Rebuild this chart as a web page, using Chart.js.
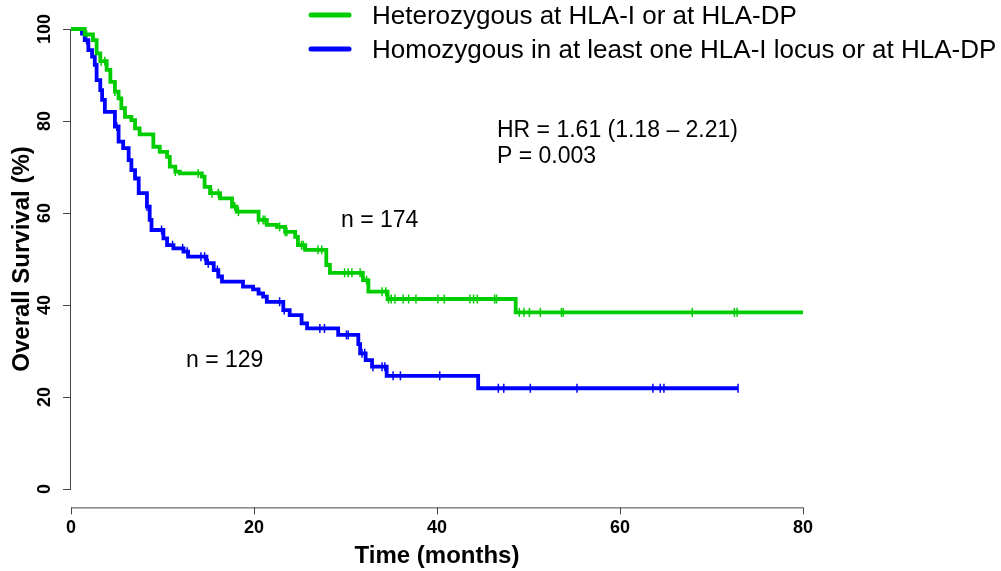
<!DOCTYPE html>
<html>
<head>
<meta charset="utf-8">
<script src="https://cdn.jsdelivr.net/npm/chart.js@4/dist/chart.umd.min.js"></script>
<style>
  body { margin: 0; background: #fff; }
  #wrap { width: 1001px; height: 571px; }
</style>
</head>
<body>
<div id="wrap"><canvas id="kmChart" width="1001" height="571"></canvas></div>
<script>
// Kaplan-Meier steps (time in months, survival in %)
const hetTime = [0, 1.5, 2.4, 2.8, 3.2, 3.9, 4.3, 4.8, 5.2, 5.5, 5.9, 6.6, 7.0, 7.5, 9.0, 9.7, 10.5, 10.8, 11.4, 11.9,
  14.3, 14.6, 15.2, 16.3, 17.6, 18.1, 20.5, 21.4, 22.5, 23.4, 24.5, 24.8, 25.6, 27.9, 28.3, 31.9, 32.5, 34.6, 48.6, 80];
const hetSurv = [100, 98.8, 97.6, 94.7, 93.0, 91.1, 88.5, 86.4, 84.9, 82.8, 80.9, 80.2, 78.4, 77.1, 74.4, 73.3, 72.2, 70.1, 69.0, 68.6,
  67.9, 65.7, 64.3, 63.2, 61.4, 60.3, 58.5, 57.4, 57.0, 55.9, 54.8, 53.0, 52.0, 48.7, 47.0, 45.4, 42.9, 41.3, 38.4, 38.4];

const homTime = [0, 1.2, 1.5, 1.9, 2.3, 2.6, 2.8, 3.2, 3.4, 3.7, 4.8, 5.2, 5.7, 6.3, 6.6, 7.0, 7.4, 8.3, 8.6, 8.8,
  10.1, 10.5, 11.2, 12.3, 12.8, 14.8, 15.6, 16.1, 16.5, 18.8, 19.9, 20.5, 21.0, 21.4, 23.2, 23.9, 25.2, 25.8, 29.2,
  31.4, 31.6, 32.2, 32.9, 34.5, 44.5, 72.9];
const homSurv = [100, 99.0, 97.6, 95.4, 94.0, 92.2, 88.9, 86.7, 84.6, 82.0, 78.8, 75.5, 74.1, 71.5, 69.3, 67.5, 64.3, 61.4, 58.5, 56.3,
  54.5, 53.0, 52.3, 51.6, 50.5, 49.1, 47.6, 46.2, 45.1, 44.0, 43.4, 42.5, 41.8, 40.7, 38.9, 37.8, 36.0, 34.9, 33.5,
  31.5, 29.5, 28.0, 26.6, 24.6, 21.9, 21.9];

// censoring times (tick marks on the curves)
const hetCensor = [1.7, 3.3, 3.7, 4.8, 11.4, 13.9, 15.4, 16.1, 17.9, 18.3, 20.5, 21.0, 21.2, 22.8, 23.4, 23.6, 25.2, 25.4,
  27.0, 27.4, 29.9, 30.3, 30.7, 31.6, 32.3, 34.0, 34.4, 34.7, 35.0, 35.4, 36.3, 36.9, 37.7, 40.1, 40.8, 43.6, 44.0,
  44.4, 46.3, 46.5, 49.0, 49.5, 50.1, 51.3, 53.6, 53.8, 67.9, 72.5, 72.8];
const homCensor = [1.7, 5.0, 8.3, 9.9, 11.1, 12.2, 12.7, 14.2, 14.6, 15.0, 16.0, 22.8, 23.3, 27.2, 27.7, 30.1, 30.3,
  31.8, 32.1, 33.0, 34.0, 34.3, 35.2, 36.0, 40.3, 46.7, 47.3, 50.2, 55.3, 63.6, 64.4, 64.8, 72.9];

const seriesLabels = ['Heterozygous at HLA-I or at HLA-DP', 'Homozygous in at least one HLA-I locus or at HLA-DP'];
const xTicks = [0, 20, 40, 60, 80];
const yTicks = [0, 20, 40, 60, 80, 100];

const GREEN = '#00CD00';
const BLUE = '#0000FF';
const FONT = '"Liberation Sans", Arial, Helvetica, sans-serif';

function toPoints(times, surv) {
  return times.map((t, i) => ({ x: t, y: surv[i] }));
}

// value of the step curve at time t
function stepValue(times, surv, t) {
  let v = surv[0];
  for (let i = 0; i < times.length; i++) {
    if (times[i] <= t) v = surv[i];
  }
  return v;
}

function censorPoints(times, surv, cens) {
  return cens.map(t => ({ x: t, y: stepValue(times, surv, t) }));
}

// R style axes, legend and annotations
const kmDecor = {
  id: 'kmDecor',
  afterDraw(chart) {
    const ctx = chart.ctx;
    const xs = chart.scales.x;
    const ys = chart.scales.y;
    const axisY = ys.getPixelForValue(-4);
    const axisX = xs.getPixelForValue(0);

    ctx.save();
    ctx.strokeStyle = '#444';
    ctx.lineWidth = 1;
    ctx.fillStyle = '#000';

    // x axis
    ctx.beginPath();
    ctx.moveTo(xs.getPixelForValue(xTicks[0]), axisY + 0.5);
    ctx.lineTo(xs.getPixelForValue(xTicks[xTicks.length - 1]), axisY + 0.5);
    xTicks.forEach(v => {
      const px = Math.round(xs.getPixelForValue(v)) + 0.5;
      ctx.moveTo(px, axisY);
      ctx.lineTo(px, axisY + 7);
    });
    ctx.stroke();
    ctx.font = 'bold 18px ' + FONT;
    ctx.textAlign = 'center';
    ctx.textBaseline = 'middle';
    xTicks.forEach(v => ctx.fillText(String(v), xs.getPixelForValue(v), axisY + 21));
    ctx.font = 'bold 24px ' + FONT;
    ctx.fillText('Time (months)', (xs.left + xs.right) / 2, 556);

    // y axis
    ctx.beginPath();
    ctx.moveTo(axisX - 0.5, ys.getPixelForValue(0));
    ctx.lineTo(axisX - 0.5, ys.getPixelForValue(100));
    yTicks.forEach(v => {
      const py = Math.round(ys.getPixelForValue(v)) + 0.5;
      ctx.moveTo(axisX, py);
      ctx.lineTo(axisX - 8, py);
    });
    ctx.stroke();
    ctx.font = 'bold 18px ' + FONT;
    yTicks.forEach(v => {
      ctx.save();
      ctx.translate(45, ys.getPixelForValue(v));
      ctx.rotate(-Math.PI / 2);
      ctx.fillText(String(v), 0, 0);
      ctx.restore();
    });
    ctx.save();
    ctx.font = 'bold 24px ' + FONT;
    ctx.translate(22, (ys.top + ys.bottom) / 2);
    ctx.rotate(-Math.PI / 2);
    ctx.fillText('Overall Survival (%)', 0, 0);
    ctx.restore();

    // legend
    ctx.lineCap = 'round';
    ctx.lineWidth = 5;
    [[GREEN, 15], [BLUE, 49]].forEach(([col, y], i) => {
      ctx.strokeStyle = col;
      ctx.beginPath();
      ctx.moveTo(311, y);
      ctx.lineTo(349, y);
      ctx.stroke();
      ctx.font = '26px ' + FONT;
      ctx.textAlign = 'left';
      ctx.fillText(seriesLabels[i], 372, y + 2);
    });

    // annotations
    ctx.font = '23px ' + FONT;
    ctx.textAlign = 'left';
    ctx.fillText('HR = 1.61 (1.18 \u2013 2.21)', 497, 131);
    ctx.fillText('P = 0.003', 497, 157);
    ctx.fillText('n = 174', 341, 221);
    ctx.fillText('n = 129', 186, 361);
    ctx.restore();
  }
};

new Chart(document.getElementById('kmChart'), {
  type: 'scatter',
  data: {
    datasets: [
      {
        label: seriesLabels[0],
        data: toPoints(hetTime, hetSurv),
        showLine: true,
        stepped: 'before',
        borderColor: GREEN,
        borderWidth: 3.8,
        pointRadius: 0,
        clip: false
      },
      {
        label: seriesLabels[1],
        data: toPoints(homTime, homSurv),
        showLine: true,
        stepped: 'before',
        borderColor: BLUE,
        borderWidth: 3.8,
        pointRadius: 0,
        clip: false
      },
      {
        label: 'het censored',
        data: censorPoints(hetTime, hetSurv, hetCensor),
        showLine: false,
        pointStyle: 'line',
        rotation: 90,
        pointRadius: 4.5,
        borderColor: GREEN,
        borderWidth: 1.5,
        clip: false
      },
      {
        label: 'hom censored',
        data: censorPoints(homTime, homSurv, homCensor),
        showLine: false,
        pointStyle: 'line',
        rotation: 90,
        pointRadius: 4.5,
        borderColor: BLUE,
        borderWidth: 1.5,
        clip: false
      }
    ]
  },
  options: {
    responsive: false,
    animation: false,
    layout: { padding: { left: 71, right: 198, top: 29, bottom: 82 } },
    plugins: { legend: { display: false }, tooltip: { enabled: false } },
    scales: {
      x: { type: 'linear', min: 0, max: 80, display: false },
      y: { type: 'linear', min: 0, max: 100, display: false }
    }
  },
  plugins: [kmDecor]
});
</script>
</body>
</html>
